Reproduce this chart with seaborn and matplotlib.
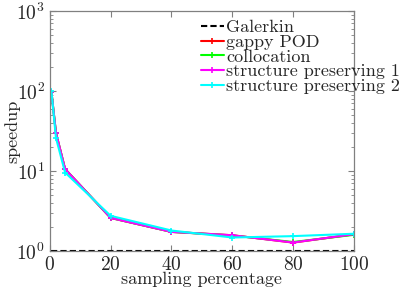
import pandas as pd
import numpy as np
import matplotlib
matplotlib.use("Agg")
import matplotlib.pyplot as plt
import seaborn as sns

# style
sns.set_style("ticks")
plt.rcParams["font.family"] = ["cmr10", "DejaVu Serif"]
plt.rcParams["mathtext.fontset"] = "cm"
plt.rcParams["axes.formatter.use_mathtext"] = True

# data
sampling = [0.5, 2, 5, 20, 40, 60, 80, 100]
galerkin = [1, 1, 1, 1, 1, 1, 1, 1]
gappy_pod = [98, 30, 10.6, 2.6, 1.74, 1.58, 1.28, 1.62]
collocation = [98, 30, 10.6, 2.6, 1.74, 1.57, 1.30, 1.60]
struct_pres_1 = [98, 30, 10.6, 2.6, 1.74, 1.58, 1.28, 1.63]
struct_pres_2 = [100, 26, 9.6, 2.76, 1.81, 1.48, 1.54, 1.65]

methods = ["Galerkin", "gappy POD", "collocation",
           "structure preserving 1", "structure preserving 2"]
values = [galerkin, gappy_pod, collocation, struct_pres_1, struct_pres_2]
palette = ["#000000", "#ff0000", "#00ff00", "#ff00ff", "#00ffff"]

# long form table for seaborn
df = pd.concat([pd.DataFrame({"sampling": sampling, "speedup": v, "method": m})
                for m, v in zip(methods, values)], ignore_index=True)

dashes = {m: "" for m in methods}
dashes["Galerkin"] = (3, 1.5)
markers = {m: "+" for m in methods}
markers["Galerkin"] = "None"

fig = plt.figure(figsize=(3.99, 2.89), dpi=100)
ax = fig.add_axes([0.125, 0.131, 0.762, 0.831])

sns.lineplot(data=df, x="sampling", y="speedup", hue="method", style="method",
             hue_order=methods, style_order=methods, palette=palette,
             dashes=dashes, markers=markers, linewidth=1.5, markersize=4,
             markeredgewidth=1.2, ax=ax)

# seaborn paints marker edges white, "+" needs the line colour
for line in ax.lines:
    line.set_markeredgecolor(line.get_color())

ax.set_yscale("log")
ax.set_ylim(1, 1000)
ax.set_xlim(0, 100)
ax.set_xticks([0, 20, 40, 60, 80, 100])
ax.set_xlabel("sampling percentage", fontsize=13, labelpad=-2)
ax.set_ylabel("speedup", fontsize=13, labelpad=-3)
ax.tick_params(axis="both", which="both", direction="in", top=True, right=True,
               labelsize=14, color="#808080")
ax.tick_params(axis="both", which="major", length=4)
ax.tick_params(axis="both", which="minor", length=2)
for sp in ax.spines.values():
    sp.set_color("#808080")
    sp.set_linewidth(0.9)

leg = ax.legend(loc="upper left", bbox_to_anchor=(0.49, 0.972), frameon=False,
                fontsize=13, labelspacing=-0.05, handlelength=1.3,
                handletextpad=0.1, borderaxespad=0, borderpad=0.1)
for line in leg.get_lines():
    line.set_linewidth(1.5)
    line.set_markeredgecolor(line.get_color())

fig.savefig("out.png", dpi=100)
